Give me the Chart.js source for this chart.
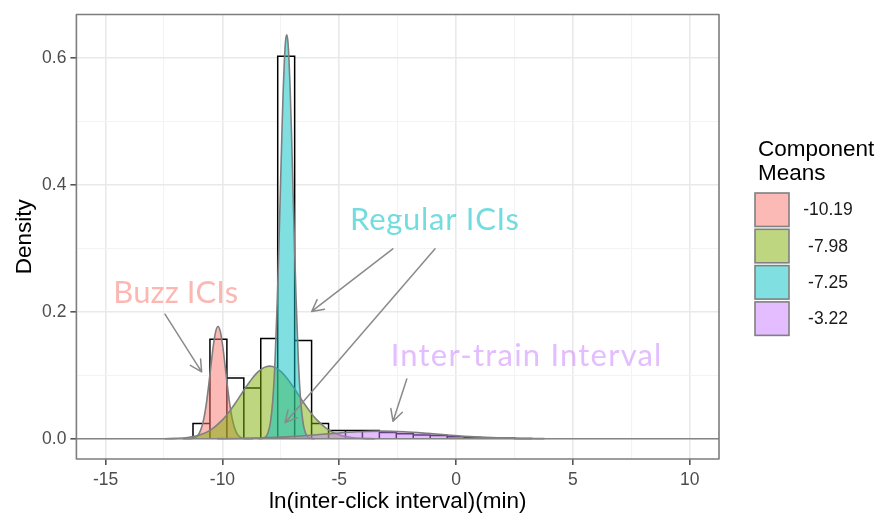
<!DOCTYPE html>
<html>
<head>
<meta charset="utf-8">
<script src="https://cdn.jsdelivr.net/npm/chart.js@4.4.1/dist/chart.umd.min.js"></script>
<style>
  html, body { margin: 0; padding: 0; background: #ffffff; }
  #wrap { width: 879px; height: 517px; }
</style>
</head>
<body>
<div id="wrap"><canvas id="c" width="879" height="517"></canvas></div>
<script>
// ---- Histogram of ln(inter-click interval) ----
const binEdges = [-11.26, -10.535, -9.81, -9.085, -8.36, -7.635, -6.91, -6.185, -5.46, -4.735,
                  -4.01, -3.285, -2.56, -1.835, -1.11, -0.385, 0.34, 1.065, 1.79, 2.515, 3.24];
const histDensity = [0.024, 0.157, 0.096, 0.080, 0.158, 0.603, 0.155, 0.024, 0.013, 0.013,
                     0.013, 0.010, 0.008, 0.006, 0.005, 0.003, 0.002, 0.0015, 0.001, 0.0005];

// ---- Mixture components (weighted densities) ----
const componentMeans = ['-10.19', '-7.98', '-7.25', '-3.22'];

const buzzX = [-11.69, -11.39, -11.19, -11.09, -10.99, -10.89, -10.79, -10.69, -10.59, -10.49, -10.39, -10.29, -10.19,
               -10.09, -9.99, -9.89, -9.79, -9.69, -9.59, -9.49, -9.39, -9.29, -9.19, -8.99, -8.69];
const buzzY = [0, 0.0002, 0.0016, 0.0040, 0.0089, 0.018, 0.033, 0.055, 0.084, 0.116, 0.147, 0.169, 0.177,
               0.169, 0.147, 0.116, 0.084, 0.055, 0.033, 0.018, 0.0089, 0.0040, 0.0016, 0.0002, 0];

const wideX = [-12.48, -11.98, -11.48, -10.98, -10.48, -9.98, -9.73, -9.48, -9.23, -8.98, -8.73, -8.48, -8.23, -7.98,
               -7.73, -7.48, -7.23, -6.98, -6.73, -6.48, -6.23, -5.98, -5.48, -4.98, -4.48, -3.98, -3.48];
const wideY = [0.0001, 0.0006, 0.0020, 0.0058, 0.0145, 0.0305, 0.0416, 0.0544, 0.0683, 0.0823, 0.0951, 0.1054, 0.1122, 0.1145,
               0.1122, 0.1054, 0.0951, 0.0823, 0.0683, 0.0544, 0.0416, 0.0305, 0.0145, 0.0058, 0.0020, 0.0006, 0.0001];

const regularX = [-8.45, -8.25, -8.15, -8.05, -7.95, -7.85, -7.75, -7.65, -7.55, -7.45, -7.40, -7.35, -7.30, -7.25,
                  -7.20, -7.15, -7.10, -7.05, -6.95, -6.85, -6.75, -6.65, -6.55, -6.45, -6.35, -6.25, -6.05];
const regularY = [0, 0.0009, 0.0030, 0.0093, 0.025, 0.059, 0.122, 0.221, 0.351, 0.489, 0.549, 0.596, 0.627, 0.637,
                  0.627, 0.596, 0.549, 0.489, 0.351, 0.221, 0.122, 0.059, 0.025, 0.0093, 0.0030, 0.0009, 0];

const trainX = [-10.22, -9.22, -8.22, -7.22, -6.22, -5.22, -4.22, -3.22, -2.22, -1.22, -0.22, 0.78, 1.78, 2.78, 3.78];
const trainY = [0.0002, 0.0005, 0.0014, 0.0030, 0.0055, 0.0085, 0.0110, 0.0120, 0.0110, 0.0085, 0.0055, 0.0030, 0.0014, 0.0005, 0.0002];

// ---- Axis ticks ----
const xTickValues = [-15, -12.5, -10, -7.5, -5, -2.5, 0, 2.5, 5, 7.5, 10];
const xTickLabels = [-15, -10, -5, 0, 5, 10];
const yTickValues = [0, 0.1, 0.2, 0.3, 0.4, 0.5, 0.6];
const yTickLabels = [0, 0.2, 0.4, 0.6];

// ---- Text ----
const xTitle = 'ln(inter-click interval)(min)';
const yTitle = 'Density';
const legendTitle = ['Component', 'Means'];
const noteTexts = ['Buzz ICIs', 'Regular ICIs', 'Inter-train Interval'];

// ---------------------------------------------------------------------
const hues = ['rgba(248,118,109,0.5)', 'rgba(124,174,0,0.5)', 'rgba(0,191,196,0.5)', 'rgba(199,124,255,0.5)'];
const noteColors = ['rgba(248,118,109,0.52)', 'rgba(0,191,196,0.55)', 'rgba(199,124,255,0.5)'];
const SANS = '"Liberation Sans", Arial, sans-serif';

const zip = (xs, ys) => xs.map((x, i) => ({ x: x, y: ys[i] }));

const histPoints = [];
histDensity.forEach((h, i) => {
  histPoints.push({ x: binEdges[i], y: 0 }, { x: binEdges[i], y: h },
                  { x: binEdges[i + 1], y: h }, { x: binEdges[i + 1], y: 0 });
});

const curves = [zip(buzzX, buzzY), zip(wideX, wideY), zip(regularX, regularY), zip(trainX, trainY)];

const datasets = [{
  label: 'histogram',
  data: histPoints,
  borderColor: '#000000',
  borderWidth: 1.5,
  backgroundColor: '#ffffff',
  fill: 'origin',
  tension: 0,
  pointRadius: 0,
  order: 5
}];
curves.forEach((pts, i) => {
  datasets.push({
    label: componentMeans[i],
    data: pts,
    borderColor: '#7f7f7f',
    borderWidth: 1.6,
    backgroundColor: hues[i],
    fill: 'origin',
    cubicInterpolationMode: 'monotone',
    pointRadius: 0,
    order: 4 - i
  });
});

// annotation layout, in data units
const notes = [
  { text: 0, x: -14.67, y: 0.2137, spacing: 0.1 },
  { text: 1, x: -4.54, y: 0.3298, spacing: 0.7 },
  { text: 2, x: -2.80, y: 0.1149, spacing: 1.2 }
];
const arrows = [
  { from: [-12.46, 0.1965], to: [-10.89, 0.1055] },
  { from: [-2.71, 0.2995], to: [-6.18, 0.2007] },
  { from: [-0.90, 0.2995], to: [-7.32, 0.0254] },
  { from: [-2.11, 0.0941], to: [-2.70, 0.0275] }
];

function drawArrow(ctx, x1, y1, x2, y2) {
  const ang = Math.atan2(y2 - y1, x2 - x1);
  const len = 13, spread = Math.PI / 6.5;
  ctx.beginPath();
  ctx.moveTo(x1, y1);
  ctx.lineTo(x2, y2);
  ctx.moveTo(x2 - len * Math.cos(ang - spread), y2 - len * Math.sin(ang - spread));
  ctx.lineTo(x2, y2);
  ctx.lineTo(x2 - len * Math.cos(ang + spread), y2 - len * Math.sin(ang + spread));
  ctx.stroke();
}

const decorations = {
  id: 'decorations',
  afterDatasetsDraw(chart) {
    const { ctx, chartArea: a, scales: { x, y } } = chart;
    ctx.save();
    // zero reference line
    const y0 = y.getPixelForValue(0);
    ctx.strokeStyle = '#858585';
    ctx.lineWidth = 1.6;
    ctx.beginPath();
    ctx.moveTo(a.left, y0);
    ctx.lineTo(a.right, y0);
    ctx.stroke();

    // arrows
    ctx.strokeStyle = '#8a8a8a';
    ctx.lineWidth = 1.5;
    ctx.lineCap = 'round';
    ctx.lineJoin = 'round';
    arrows.forEach(ar => {
      drawArrow(ctx, x.getPixelForValue(ar.from[0]), y.getPixelForValue(ar.from[1]),
                     x.getPixelForValue(ar.to[0]), y.getPixelForValue(ar.to[1]));
    });

    // labels
    ctx.font = '31px Lato, "Open Sans", sans-serif';
    ctx.textAlign = 'left';
    ctx.textBaseline = 'alphabetic';
    notes.forEach(n => {
      ctx.fillStyle = noteColors[n.text];
      ctx.letterSpacing = n.spacing + 'px';
      ctx.fillText(noteTexts[n.text], x.getPixelForValue(n.x), y.getPixelForValue(n.y));
    });
    ctx.letterSpacing = '0px';

    // panel border
    ctx.strokeStyle = '#7d7d7d';
    ctx.lineWidth = 1.6;
    ctx.strokeRect(a.left, a.top, a.right - a.left, a.bottom - a.top);
    ctx.restore();
  },
  afterDraw(chart) {
    const { ctx, chartArea: a } = chart;
    ctx.save();
    // axis titles
    ctx.fillStyle = '#000000';
    ctx.font = '22.5px ' + SANS;
    ctx.textAlign = 'center';
    ctx.textBaseline = 'alphabetic';
    ctx.fillText(xTitle, (a.left + a.right) / 2, 508);
    ctx.save();
    ctx.translate(31, (a.top + a.bottom) / 2);
    ctx.rotate(-Math.PI / 2);
    ctx.fillText(yTitle, 0, 0);
    ctx.restore();

    // legend
    const lx = a.right + 36;
    ctx.textAlign = 'left';
    ctx.fillText(legendTitle[0], lx + 3, 156);
    ctx.fillText(legendTitle[1], lx + 3, 179.5);
    ctx.font = '17.5px ' + SANS;
    ctx.textAlign = 'center';
    ctx.textBaseline = 'middle';
    chart.data.datasets.slice(1).forEach((ds, i) => {
      const top = 193 + i * 36.3;
      ctx.fillStyle = '#ffffff';
      ctx.fillRect(lx, top, 34, 33.5);
      ctx.fillStyle = ds.backgroundColor;
      ctx.fillRect(lx, top, 34, 33.5);
      ctx.strokeStyle = '#808080';
      ctx.lineWidth = 1.6;
      ctx.strokeRect(lx, top, 34, 33.5);
      ctx.fillStyle = '#1a1a1a';
      ctx.fillText(ds.label, lx + 73, top + 17.5);
    });
    ctx.restore();
  }
};

const isIn = (arr, v) => arr.some(t => Math.abs(t - v) < 1e-9);

new Chart(document.getElementById('c'), {
  type: 'line',
  data: { datasets: datasets },
  options: {
    responsive: false,
    animation: false,
    devicePixelRatio: 1,
    events: [],
    parsing: true,
    layout: { padding: { top: 10, right: 160, left: 0, bottom: 0 } },
    plugins: { legend: { display: false }, tooltip: { enabled: false } },
    scales: {
      x: {
        type: 'linear',
        min: -16.25,
        max: 11.25,
        afterBuildTicks: s => { s.ticks = xTickValues.map(v => ({ value: v })); },
        afterFit: s => { s.height = 58; },
        border: { display: false },
        grid: {
          color: c => (c.tick && isIn(xTickLabels, c.tick.value)) ? '#e9e9e9' : '#f3f3f3',
          lineWidth: c => (c.tick && isIn(xTickLabels, c.tick.value)) ? 1.6 : 1.1,
          tickColor: c => (c.tick && isIn(xTickLabels, c.tick.value)) ? '#555555' : 'rgba(0,0,0,0)',
          tickWidth: 1.6,
          tickLength: 6,
          drawTicks: true
        },
        ticks: {
          autoSkip: false,
          maxRotation: 0,
          padding: 5,
          color: '#4d4d4d',
          font: { family: SANS, size: 17.5 },
          callback: v => isIn(xTickLabels, v) ? String(v) : ''
        }
      },
      y: {
        type: 'linear',
        min: -0.0319,
        max: 0.6689,
        afterBuildTicks: s => { s.ticks = yTickValues.map(v => ({ value: v })); },
        afterFit: s => { s.width = 76.4; },
        border: { display: false },
        grid: {
          color: c => (c.tick && isIn(yTickLabels, c.tick.value)) ? '#e9e9e9' : '#f3f3f3',
          lineWidth: c => (c.tick && isIn(yTickLabels, c.tick.value)) ? 1.6 : 1.1,
          tickColor: c => (c.tick && isIn(yTickLabels, c.tick.value)) ? '#555555' : 'rgba(0,0,0,0)',
          tickWidth: 1.6,
          tickLength: 6,
          drawTicks: true
        },
        ticks: {
          autoSkip: false,
          padding: 4,
          color: '#4d4d4d',
          font: { family: SANS, size: 17.5 },
          callback: v => isIn(yTickLabels, v) ? v.toFixed(1) : ''
        }
      }
    }
  },
  plugins: [decorations]
});
</script>
</body>
</html>
